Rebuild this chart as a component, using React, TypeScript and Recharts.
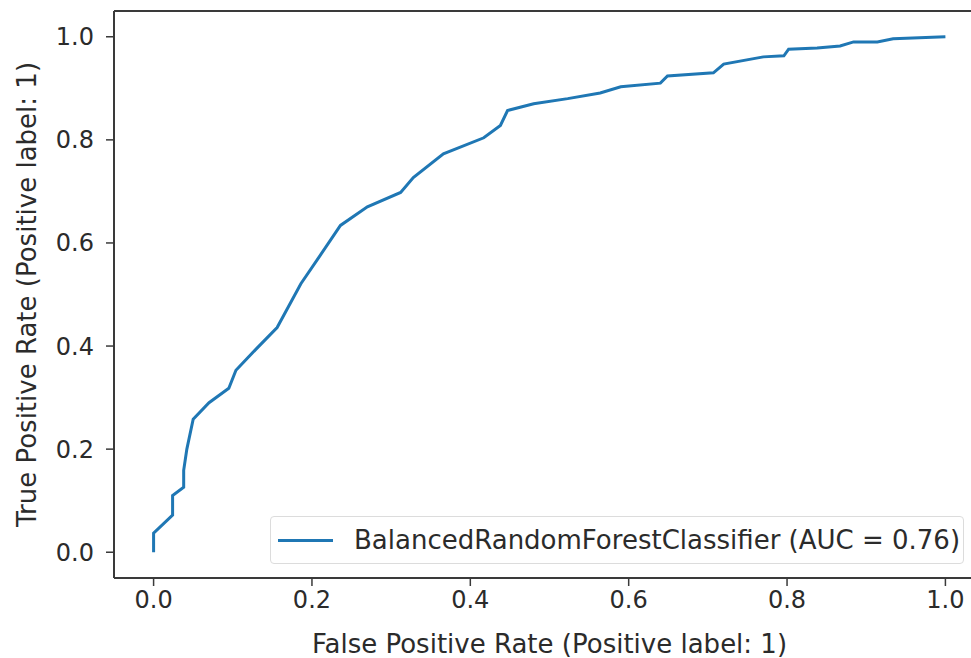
import React from "react"
import { LineChart, Line, XAxis, YAxis, ReferenceLine } from "recharts"

// ROC curve points
const fpr = [
  0, 0, 0.024, 0.024, 0.038, 0.038, 0.042, 0.05, 0.07, 0.095, 0.104, 0.13, 0.156, 0.186, 0.21, 0.236, 0.27,
  0.312, 0.328, 0.366, 0.417, 0.438, 0.447, 0.48, 0.523, 0.564, 0.59, 0.64, 0.649, 0.707, 0.72, 0.77, 0.796,
  0.802, 0.838, 0.867, 0.884, 0.914, 0.934, 1.0,
]
const tpr = [
  0, 0.037, 0.072, 0.11, 0.126, 0.159, 0.2, 0.258, 0.29, 0.318, 0.353, 0.395, 0.436, 0.521, 0.575, 0.634, 0.67,
  0.698, 0.727, 0.773, 0.804, 0.828, 0.857, 0.87, 0.88, 0.891, 0.903, 0.91, 0.924, 0.93, 0.947, 0.961, 0.963,
  0.976, 0.978, 0.982, 0.99, 0.99, 0.996, 1.0,
]
const ticks = [0, 0.2, 0.4, 0.6, 0.8, 1.0]
const seriesName = "BalancedRandomForestClassifier (AUC = 0.76)"

const data = fpr.map((x, i) => ({ x, y: tpr[i] }))

const font = "'DejaVu Sans', sans-serif"
const ink = "#2b2b2b"
const frame = "#3a3a3a"
const blue = "#1f77b4"

// legend drawn as an overlay so it doesn't steal height from the plot
function LegendBox() {
  return (
    <div
      style={{
        position: "absolute",
        left: 270,
        top: 516,
        boxSizing: "border-box",
        width: 694,
        height: 48,
        border: "1.5px solid #dcdcdc",
        borderRadius: 4,
        background: "#fff",
        display: "flex",
        alignItems: "center",
        fontFamily: font,
        fontSize: 26,
        color: ink,
        whiteSpace: "nowrap",
      }}
    >
      <span style={{ display: "inline-block", width: 55, height: 3, background: blue, marginLeft: 7, marginRight: 21 }} />
      <span>{seriesName}</span>
    </div>
  )
}

export default function App() {
  return (
    <div style={{ position: "absolute", left: 0, top: 0, width: 971, height: 658, overflow: "hidden", background: "#fff" }}>
      <LineChart width={990} height={658} data={data} margin={{ top: 11, right: 5, bottom: 0, left: 0 }}>
        <XAxis
          type="number"
          dataKey="x"
          domain={[-0.05, 1.05]}
          ticks={ticks}
          tickFormatter={(v: number) => v.toFixed(1)}
          height={80}
          tickSize={8}
          tickMargin={5}
          axisLine={{ stroke: frame, strokeWidth: 2 }}
          tickLine={{ stroke: frame, strokeWidth: 1.5 }}
          tick={{ fill: ink, fontSize: 24, fontFamily: font }}
          label={{
            value: "False Positive Rate (Positive label: 1)",
            position: "insideBottom",
            offset: 5,
            style: { fill: ink, fontSize: 26, fontFamily: font },
          }}
        />
        <YAxis
          type="number"
          domain={[-0.05, 1.05]}
          ticks={ticks}
          tickFormatter={(v: number) => v.toFixed(1)}
          width={114}
          tickSize={8}
          tickMargin={12}
          axisLine={{ stroke: frame, strokeWidth: 2 }}
          tickLine={{ stroke: frame, strokeWidth: 1.5 }}
          tick={{ fill: ink, fontSize: 24, fontFamily: font }}
          label={{
            value: "True Positive Rate (Positive label: 1)",
            angle: -90,
            position: "insideLeft",
            offset: 27,
            style: { textAnchor: "middle", fill: ink, fontSize: 26, fontFamily: font },
          }}
        />
        <ReferenceLine y={1.05} stroke={frame} strokeWidth={2} />
        <Line
          type="linear"
          dataKey="y"
          name={seriesName}
          stroke={blue}
          strokeWidth={3}
          dot={false}
          isAnimationActive={false}
        />
      </LineChart>
      <LegendBox />
    </div>
  )
}
